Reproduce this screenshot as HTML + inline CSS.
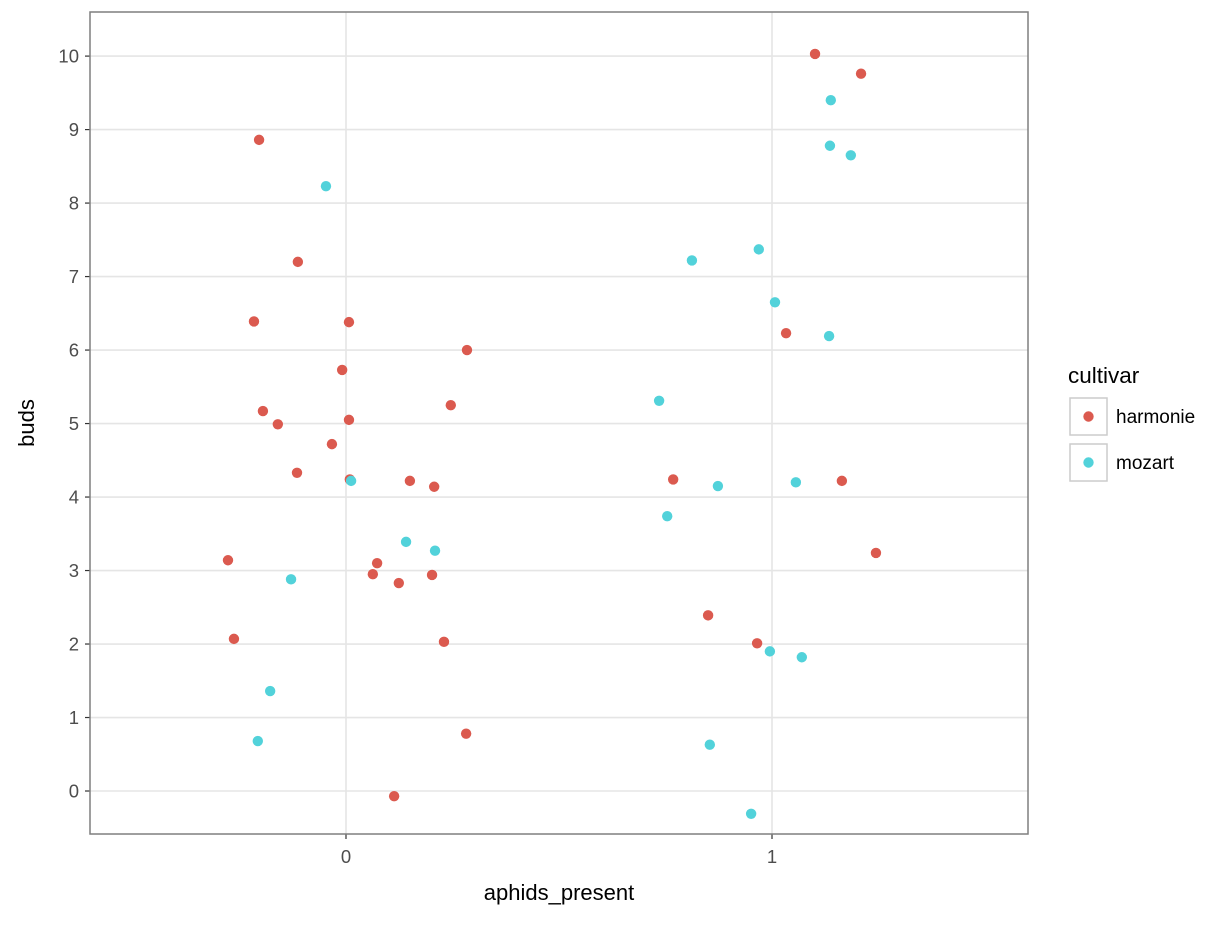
<!DOCTYPE html>
<html><head><meta charset="utf-8"><style>
body{margin:0;background:#fff;}
svg text{font-family:"Liberation Sans",Arial,sans-serif;}
</style></head><body>
<svg id="chart" width="1228" height="921" xmlns="http://www.w3.org/2000/svg">
<rect width="1228" height="921" fill="#fff"/>
<g id="grid"></g><g id="pts"></g><g id="axes"></g>
<rect x="90" y="12" width="938" height="822" fill="none" stroke="#7f7f7f" stroke-width="1.5"/>
<text x="559" y="900" font-size="22" text-anchor="middle" fill="#000">aphids_present</text>
<text transform="translate(34,423) rotate(-90)" font-size="22" text-anchor="middle" fill="#000">buds</text>
<g>
<text x="1068" y="383" font-size="22.5" fill="#000">cultivar</text>
<g>
<rect x="1070" y="398" width="37" height="37" fill="#fff" stroke="#cccccc" stroke-width="1.5"/>
<circle cx="1088.5" cy="416.5" r="5.2" fill="#db5a4f"/>
<text x="1116" y="423" font-size="19" fill="#000">harmonie</text></g>
<g>
<rect x="1070" y="444" width="37" height="37" fill="#fff" stroke="#cccccc" stroke-width="1.5"/>
<circle cx="1088.5" cy="462.5" r="5.2" fill="#52d2da"/>
<text x="1116" y="469" font-size="19" fill="#000">mozart</text></g>
</g>
</svg>
<script>
const xTicks=[0,1];
const yTicks=[0,1,2,3,4,5,6,7,8,9,10];
const harmonieX=[1.101,1.209,-0.204,-0.113,-0.216,0.007,0.284,-0.009,-0.195,0.246,-0.160,0.007,-0.033,-0.115,0.009,0.150,0.207,-0.277,0.073,0.063,0.202,0.124,-0.263,0.230,0.282,0.113,1.033,0.768,1.164,1.244,0.850,0.965];
const harmonieY=[10.03,9.76,8.86,7.20,6.39,6.38,6.00,5.73,5.17,5.25,4.99,5.05,4.72,4.33,4.24,4.22,4.14,3.14,3.10,2.95,2.94,2.83,2.07,2.03,0.78,-0.07,6.23,4.24,4.22,3.24,2.39,2.01];
const mozartX=[1.138,1.136,1.185,-0.047,0.969,0.812,1.007,1.134,0.735,0.012,0.873,1.056,0.754,0.141,0.209,-0.129,0.995,1.070,-0.178,-0.207,0.854,0.951];
const mozartY=[9.40,8.78,8.65,8.23,7.37,7.22,6.65,6.19,5.31,4.22,4.15,4.20,3.74,3.39,3.27,2.88,1.90,1.82,1.36,0.68,0.63,-0.31];
const NS="http://www.w3.org/2000/svg";
const X0=90,X1=1028,Y0=834,Y1=12;
const xMin=-0.6009,xMax=1.6009,yMin=-0.585,yMax=10.6;
function sx(v){return X0+(v-xMin)/(xMax-xMin)*(X1-X0);}
function sy(v){return Y0-(v-yMin)/(yMax-yMin)*(Y0-Y1);}
function mk(tag,attrs,parent){const e=document.createElementNS(NS,tag);for(const k in attrs)e.setAttribute(k,attrs[k]);parent.appendChild(e);return e;}
const grid=document.getElementById('grid'),axes=document.getElementById('axes'),pts=document.getElementById('pts');
yTicks.forEach(t=>{
 const l=mk('line',{x1:X0,x2:X1,y1:sy(t),y2:sy(t),stroke:'#e5e5e5','stroke-width':1.6},grid);
 
 
 const tk=mk('line',{x1:X0-5,x2:X0,y1:sy(t),y2:sy(t),stroke:'#333','stroke-width':1.2},axes);
 
 
 const tx=mk('text',{x:X0-11,y:sy(t)+6.5,'font-size':18.5,'text-anchor':'end',fill:'#4d4d4d'},axes);
 tx.textContent=t;
 
 
});
xTicks.forEach(t=>{
 const l=mk('line',{x1:sx(t),x2:sx(t),y1:Y0,y2:Y1,stroke:'#e5e5e5','stroke-width':1.6},grid);
 
 
 const tk=mk('line',{x1:sx(t),x2:sx(t),y1:Y0,y2:Y0+5,stroke:'#333','stroke-width':1.2},axes);
 
 
 const tx=mk('text',{x:sx(t),y:Y0+29,'font-size':18.5,'text-anchor':'middle',fill:'#4d4d4d'},axes);
 tx.textContent=t;
 
 
});
harmonieX.forEach((v,i)=>{
 const c=mk('circle',{cx:sx(v),cy:sy(harmonieY[i]),r:5.2,fill:'#db5a4f'},pts);
 
 
});
mozartX.forEach((v,i)=>{
 const c=mk('circle',{cx:sx(v),cy:sy(mozartY[i]),r:5.2,fill:'#52d2da'},pts);
 
 
});
</script>
</body></html>
